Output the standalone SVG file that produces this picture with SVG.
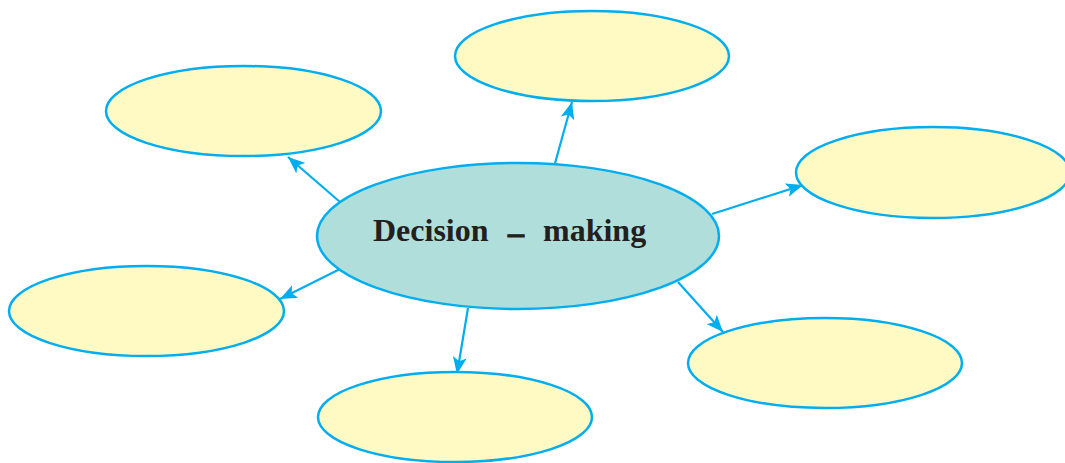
<svg xmlns="http://www.w3.org/2000/svg" width="1065" height="463" viewBox="0 0 1065 463">
<style>
.leaf{fill:#FFF9C4;stroke:#00AEEF;stroke-width:2.5}
.center{fill:#B0DEDB;stroke:#00AEEF;stroke-width:2.5}
.conn{stroke:#00AEEF;stroke-width:2.2;fill:none;marker-end:url(#arr)}
.lbl{font-family:"Liberation Serif","Times New Roman",serif;font-weight:bold;font-size:32px;fill:#231F20}
.dash{stroke:#231F20;stroke-width:1}
</style>
<defs>
<marker id="arr" markerUnits="userSpaceOnUse" markerWidth="18" markerHeight="14" viewBox="0 0 18 14" refX="17" refY="7" orient="auto">
<path d="M0,0 L17,7 L0,14 L4,7 z" fill="#00AEEF"/>
</marker>
</defs>
<rect width="1065" height="463" fill="#FFFFFF"/>
<g id="connectors">
<line class="conn" x1="340" y1="202" x2="288" y2="157"/>
<line class="conn" x1="554" y1="167" x2="572" y2="102"/>
<line class="conn" x1="712" y1="214" x2="803" y2="185"/>
<line class="conn" x1="342" y1="268" x2="280" y2="299"/>
<line class="conn" x1="468" y1="308" x2="457" y2="374"/>
<line class="conn" x1="678" y1="282" x2="723" y2="332"/>
</g>
<g id="node-top-left"><ellipse class="leaf" cx="243.5" cy="111" rx="137.5" ry="45"/></g>
<g id="node-top"><ellipse class="leaf" cx="592" cy="56" rx="137" ry="45"/></g>
<g id="node-right"><ellipse class="leaf" cx="933" cy="172.5" rx="137" ry="45.5"/></g>
<g id="node-left"><ellipse class="leaf" cx="146.5" cy="311" rx="137.5" ry="45"/></g>
<g id="node-bottom"><ellipse class="leaf" cx="455" cy="417" rx="137" ry="45"/></g>
<g id="node-bottom-right"><ellipse class="leaf" cx="825" cy="363" rx="137" ry="45"/></g>
<g id="node-center">
<ellipse class="center" cx="518" cy="236" rx="201" ry="73"/>
<text class="lbl" y="241"><tspan x="373">Decision</tspan><tspan class="dash" x="508" y="243">–</tspan><tspan x="543" y="241">making</tspan></text>
</g>
</svg>
